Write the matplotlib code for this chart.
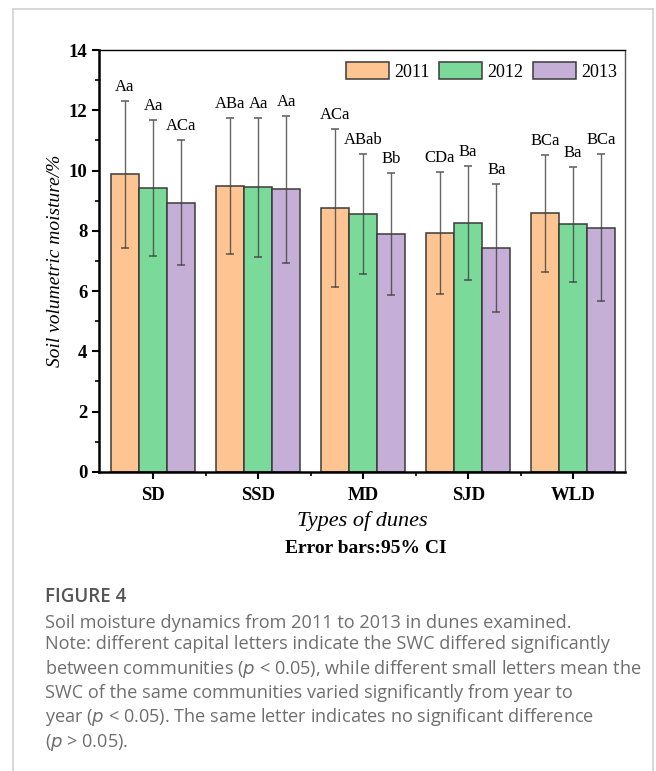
import matplotlib
matplotlib.use("Agg")
import matplotlib.pyplot as plt
import numpy as np
from matplotlib.lines import Line2D
from matplotlib.ticker import MultipleLocator

# data
dunes = ["SD", "SSD", "MD", "SJD", "WLD"]
years = ["2011", "2012", "2013"]
mean_2011 = [9.88, 9.50, 8.75, 7.93, 8.58]
mean_2012 = [9.43, 9.45, 8.56, 8.27, 8.22]
mean_2013 = [8.93, 9.38, 7.90, 7.42, 8.11]
upper_2011 = [12.32, 11.75, 11.38, 9.95, 10.52]
upper_2012 = [11.68, 11.75, 10.54, 10.16, 10.13]
upper_2013 = [11.01, 11.81, 9.92, 9.55, 10.54]
lower_2011 = [7.42, 7.22, 6.13, 5.90, 6.65]
lower_2012 = [7.18, 7.13, 6.57, 6.37, 6.29]
lower_2013 = [6.88, 6.94, 5.87, 5.32, 5.68]
letters_2011 = ["Aa", "ABa", "ACa", "CDa", "BCa"]
letters_2012 = ["Aa", "Aa", "ABab", "Ba", "Ba"]
letters_2013 = ["ACa", "Aa", "Bb", "Ba", "BCa"]

means = [mean_2011, mean_2012, mean_2013]
uppers = [upper_2011, upper_2012, upper_2013]
lowers = [lower_2011, lower_2012, lower_2013]
letters = [letters_2011, letters_2012, letters_2013]
colors = ["#FEC593", "#7BD99A", "#C5AFD6"]

serif = ["Liberation Serif", "DejaVu Serif"]
sans = ["Open Sans", "DejaVu Sans"]

fig = plt.figure(figsize=(6.56, 7.71), dpi=100)
ax = fig.add_axes([0.151, 0.388, 0.802, 0.547])

x = np.arange(len(dunes))
w = 0.268
for i in range(3):
    xs = x + (i - 1) * w
    m = np.array(means[i])
    err = [m - np.array(lowers[i]), np.array(uppers[i]) - m]
    ax.bar(xs, m, w, color=colors[i], edgecolor="#3a3a3a", linewidth=1.1,
           label=years[i], zorder=2)
    ax.errorbar(xs, m, yerr=err, fmt="none", ecolor="#404040", alpha=0.8,
                elinewidth=1.0, capsize=3.2, capthick=1.2, zorder=3)
    for j in range(len(dunes)):
        ax.text(xs[j], uppers[i][j] + 0.2, letters[i][j], ha="center",
                va="bottom", fontsize=12, family=serif)

ax.set_xlim(-0.514, 4.495)
ax.set_ylim(0, 14)
ax.yaxis.set_major_locator(MultipleLocator(2))
ax.yaxis.set_minor_locator(MultipleLocator(1))
ax.set_xticks(x)
ax.set_xticks(x[:-1] + 0.5, minor=True)
ax.set_xticklabels(dunes, fontsize=13.5, fontweight="bold", family=serif)
for lab in ax.get_yticklabels():
    lab.set_fontsize(13.5)
    lab.set_fontweight("bold")
    lab.set_family(serif)
ax.tick_params(axis="both", which="major", direction="out", length=5, width=1.5)
ax.tick_params(axis="both", which="minor", direction="out", length=3, width=1.2)
ax.tick_params(axis="x", which="major", pad=6)
for s in ["left", "bottom"]:
    ax.spines[s].set_linewidth(1.8)
ax.spines["top"].set_linewidth(1.0)
ax.spines["right"].set_linewidth(1.0)
ax.spines["right"].set_color("#555555")

ax.set_ylabel("Soil volumetric moisture/%", fontsize=14, style="italic",
              family=serif, labelpad=3)
ax.set_xlabel("Types of dunes", fontsize=16, style="italic", family=serif,
              labelpad=5)

leg = ax.legend(loc="upper right", ncol=3, frameon=False,
                bbox_to_anchor=(1.012, 1.005),
                prop={"family": serif, "size": 13},
                handlelength=2.35, handleheight=1.0, handletextpad=0.3,
                columnspacing=0.55, borderpad=0.3)

fig.text(0.557, 0.289, "Error bars:95% CI", ha="center", va="center",
         fontsize=14, fontweight="bold", family=serif)

# caption
fig.text(0.069, 0.219, "FIGURE 4", ha="left", va="baseline", fontsize=13.5,
         color="#555555", family=sans, fontweight="semibold")
caption = ("Soil moisture dynamics from 2011 to 2013 in dunes examined.\n"
           "Note: different capital letters indicate the SWC differed significantly\n"
           "between communities ($p$ < 0.05), while different small letters mean the\n"
           "SWC of the same communities varied significantly from year to\n"
           "year ($p$ < 0.05). The same letter indicates no significant difference\n"
           "($p$ > 0.05).")
fig.text(0.069, 0.204, caption, ha="left", va="top", fontsize=13.1,
         color="#6e6e6e", family=sans, linespacing=1.27)

# light frame around the figure panel
lc = "#d2d2d2"
fig.add_artist(Line2D([0.02, 0.02], [0, 0.988], color=lc, lw=1.2))
fig.add_artist(Line2D([0.02, 0.995], [0.988, 0.988], color=lc, lw=1.2))
fig.add_artist(Line2D([0.995, 0.995], [0, 0.988], color=lc, lw=1.2))

plt.savefig("out.png", dpi=100)
